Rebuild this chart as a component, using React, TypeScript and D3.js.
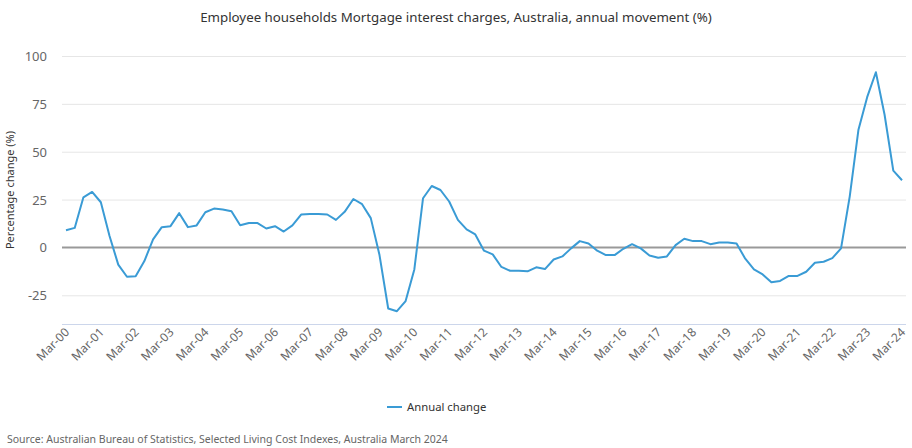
import * as d3 from "d3";
import { useEffect, useRef } from "react";

const WIDTH = 912;
const HEIGHT = 448;

// Quarterly annual movement (%), Mar-00 .. Mar-24
const annualChange = [
  9.0, 10.2, 26.2, 29.0, 23.6, 6.0, -9.0, -15.3, -15.0, -7.1,
  4.2, 10.6, 11.1, 17.9, 10.6, 11.5, 18.4, 20.3, 19.8, 18.9,
  11.6, 12.8, 12.7, 9.9, 11.1, 8.3, 11.5, 17.2, 17.4, 17.4,
  17.2, 14.4, 18.6, 25.3, 22.6, 15.3, -4.0, -31.9, -33.3, -28.0,
  -11.5, 25.7, 32.1, 30.0, 24.0, 14.4, 9.4, 6.8, -1.7, -3.6,
  -10.2, -12.2, -12.2, -12.5, -10.4, -11.3, -6.3, -4.7, -0.5, 3.3,
  2.1, -1.7, -4.0, -4.0, -0.7, 1.7, -0.5, -4.2, -5.4, -4.7,
  1.2, 4.5, 3.3, 3.3, 1.7, 2.6, 2.6, 2.1, -5.9, -11.5,
  -14.1, -18.2, -17.5, -14.9, -14.9, -12.7, -8.0, -7.5, -5.6, -0.5,
  26.7, 61.5, 78.5, 91.5, 69.3, 40.1, 35.1,
];

const tickLabels = [
  "Mar-00", "Mar-01", "Mar-02", "Mar-03", "Mar-04", "Mar-05", "Mar-06",
  "Mar-07", "Mar-08", "Mar-09", "Mar-10", "Mar-11", "Mar-12", "Mar-13",
  "Mar-14", "Mar-15", "Mar-16", "Mar-17", "Mar-18", "Mar-19", "Mar-20",
  "Mar-21", "Mar-22", "Mar-23", "Mar-24",
];

const yTicks = [-25, 0, 25, 50, 75, 100];

const FONT = "'Noto Sans', 'Open Sans', sans-serif";
const LINE_COLOR = "#3a9bd5";

export default function App() {
  const svgRef = useRef<SVGSVGElement>(null);

  useEffect(() => {
    if (!svgRef.current) return;
    const svg = d3.select(svgRef.current);
    svg.selectAll("*").remove();

    const plotLeft = 62;
    const plotRight = 906;

    const x = d3
      .scaleLinear()
      .domain([0, annualChange.length - 1])
      .range([66, 902]);

    const y = d3.scaleLinear().domain([-40, 100]).range([324, 56]);

    // Grid
    svg
      .append("g")
      .selectAll("line")
      .data(yTicks.filter((d) => d !== 0))
      .enter()
      .append("line")
      .attr("x1", plotLeft)
      .attr("x2", plotRight)
      .attr("y1", (d) => y(d) + 0.5)
      .attr("y2", (d) => y(d) + 0.5)
      .style("stroke", "#e6e6e6")
      .style("stroke-width", 1);

    // Y tick labels
    svg
      .append("g")
      .selectAll("text")
      .data(yTicks)
      .enter()
      .append("text")
      .attr("x", 47)
      .attr("y", (d) => y(d) + 5)
      .attr("text-anchor", "end")
      .style("font-family", FONT)
      .style("font-size", "13px")
      .style("fill", "#666")
      .text((d) => d);

    // Zero line
    svg
      .append("line")
      .attr("x1", plotLeft)
      .attr("x2", plotRight)
      .attr("y1", y(0))
      .attr("y2", y(0))
      .style("stroke", "#999")
      .style("stroke-width", 2);

    // X axis line
    svg
      .append("line")
      .attr("x1", plotLeft)
      .attr("x2", plotRight)
      .attr("y1", 324.5)
      .attr("y2", 324.5)
      .style("stroke", "#ccd6eb")
      .style("stroke-width", 1);

    // X labels
    svg
      .append("g")
      .selectAll("text")
      .data(tickLabels)
      .enter()
      .append("text")
      .attr("transform", (_, i) => `translate(${x(i * 4) + 4},${333}) rotate(-45)`)
      .attr("text-anchor", "end")
      .style("font-family", FONT)
      .style("font-size", "12px")
      .style("fill", "#666")
      .text((d) => d);

    // Line
    const line = d3
      .line<number>()
      .x((_, i) => x(i))
      .y((d) => y(d));

    svg
      .append("path")
      .datum(annualChange)
      .attr("d", line)
      .style("fill", "none")
      .style("stroke", LINE_COLOR)
      .style("stroke-width", 2)
      .style("stroke-linejoin", "round");

    // Title
    svg
      .append("text")
      .attr("x", WIDTH / 2)
      .attr("y", 22)
      .attr("text-anchor", "middle")
      .style("font-family", FONT)
      .style("font-size", "13.3px")
      .style("fill", "#333")
      .text("Employee households Mortgage interest charges, Australia, annual movement (%)");

    // Y axis title
    svg
      .append("text")
      .attr("transform", `translate(14,${(56 + 324) / 2}) rotate(-90)`)
      .attr("text-anchor", "middle")
      .style("font-family", FONT)
      .style("font-size", "11px")
      .style("fill", "#333")
      .text("Percentage change (%)");

    // Legend
    const legend = svg.append("g").attr("transform", "translate(387,407)");
    legend
      .append("line")
      .attr("x1", 0)
      .attr("x2", 15)
      .attr("y1", 0)
      .attr("y2", 0)
      .style("stroke", LINE_COLOR)
      .style("stroke-width", 2);
    legend
      .append("text")
      .attr("x", 20)
      .attr("y", 4)
      .style("font-family", FONT)
      .style("font-size", "11.3px")
      .style("fill", "#333")
      .text("Annual change");

    // Source
    svg
      .append("text")
      .attr("x", 7)
      .attr("y", 443)
      .style("font-family", FONT)
      .style("font-size", "10.5px")
      .style("fill", "#666")
      .text("Source: Australian Bureau of Statistics, Selected Living Cost Indexes, Australia March 2024");
  }, []);

  return (
    <svg
      ref={svgRef}
      width={WIDTH}
      height={HEIGHT}
      style={{ position: "absolute", left: 0, top: 0, background: "#fff" }}
    />
  );
}
